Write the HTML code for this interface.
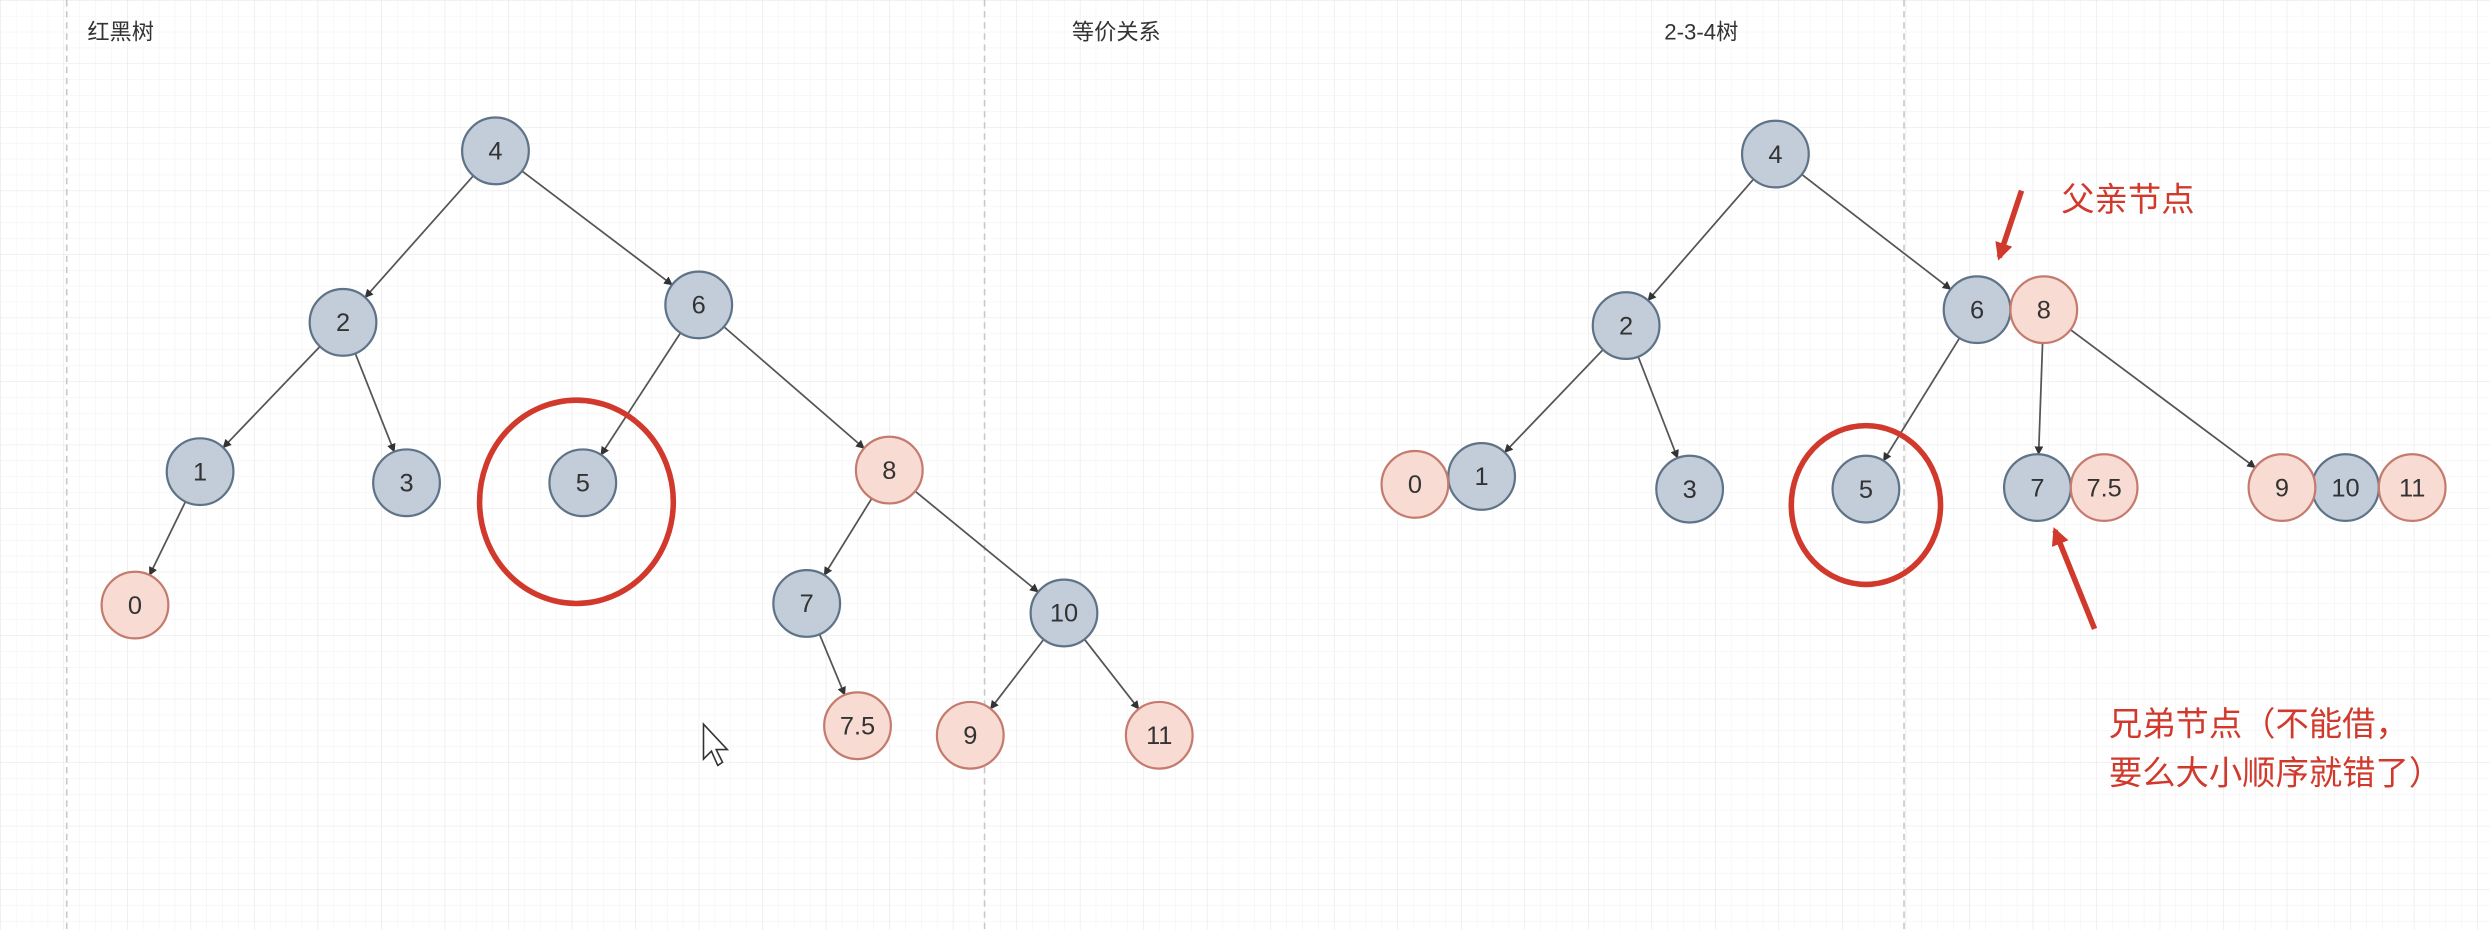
<!DOCTYPE html>
<html><head><meta charset="utf-8">
<style>
html,body{margin:0;padding:0;background:#fff;}
svg{display:block;}
text{font-family:"Liberation Sans","Noto Sans CJK SC",sans-serif;}
</style></head>
<body>
<svg id="chart" width="2490" height="930" viewBox="0 0 1568 585.6" xmlns="http://www.w3.org/2000/svg">
<defs>
<pattern id="minor" width="10" height="10" patternUnits="userSpaceOnUse"><path d="M10 0H0V10" fill="none" stroke="#f1f1f1" stroke-width="0.6"/></pattern>
<pattern id="major" width="40" height="40" patternUnits="userSpaceOnUse"><rect width="40" height="40" fill="url(#minor)"/><path d="M40 0H0V40" fill="none" stroke="#e4e4e4" stroke-width="0.7"/></pattern>
<marker id="ah" viewBox="0 0 10 10" refX="9" refY="5" markerWidth="5" markerHeight="5" orient="auto"><path d="M0 0L10 5L0 10z" fill="#333"/></marker>
<marker id="rah" viewBox="0 0 10 10" refX="8" refY="5" markerWidth="3.2" markerHeight="3.2" orient="auto"><path d="M0 0L10 5L0 10z" fill="#d0392b"/></marker>
</defs>
<rect width="1568" height="586" fill="url(#major)"/>
<g stroke="#c8c8c8" stroke-dasharray="4,3" stroke-width="1">
<line x1="42" y1="0" x2="42" y2="586"/><line x1="620" y1="0" x2="620" y2="586"/><line x1="1199" y1="0" x2="1199" y2="586"/>
</g>
<text x="55" y="25" font-size="14" fill="#333">红黑树</text>
<text x="675" y="25" font-size="14" fill="#333">等价关系</text>
<text x="1048" y="25" font-size="14" fill="#333">2-3-4树</text>
<g id="edges"></g>
<g id="nodes"></g>
<ellipse cx="363" cy="316" rx="61" ry="64" fill="none" stroke="#d0392b" stroke-width="3.5"/>
<ellipse cx="1175" cy="318" rx="47" ry="50" fill="none" stroke="#d0392b" stroke-width="3.5"/>
<line x1="1273" y1="120" x2="1259" y2="162" stroke="#d0392b" stroke-width="3.5" marker-end="url(#rah)"/>
<line x1="1319" y1="396" x2="1294" y2="334" stroke="#d0392b" stroke-width="3.5" marker-end="url(#rah)"/>
<text x="1298" y="133" font-size="21" fill="#d0392b">父亲节点</text>
<text x="1328" y="463" font-size="21" fill="#d0392b">兄弟节点（不能借，</text>
<text x="1328" y="494" font-size="21" fill="#d0392b">要么大小顺序就错了）</text>
<path d="M443 456 L443 478 L448 473 L452 482 L455 480 L451 472 L458 472 Z" fill="#fff" stroke="#333" stroke-width="1"/>
</svg>
<script>
const nodeLabels=["4","2","6","1","3","5","8","0","7","10","7.5","9","11"];
const nodeColors=["b","b","b","b","b","b","r","r","b","b","r","r","r"];
const leftX=[312,216,440,126,256,367,560,85,508,670,540,611,730];
const leftY=[95,203,192,297,304,304,296,381,380,386,457,463,463];
const leftEdges=[[0,1],[0,2],[1,3],[1,4],[2,5],[2,6],[3,7],[6,8],[6,9],[8,10],[9,11],[9,12]];
const rightX=[1118,1024,1245,933,1064,1175,1287,891,1283,1477,1325,1437,1519];
const rightY=[97,205,195,300,308,308,195,305,307,307,307,307,307];
const rightEdges=[[0,1],[0,2],[1,3],[1,4],[2,5],[6,8],[6,11],[3,7],[8,10],[9,11],[9,12]];
const R=21;
const NS="http://www.w3.org/2000/svg";
const eg=document.getElementById('edges'), ng=document.getElementById('nodes');
function drawEdges(xs,ys,edges,side){
  edges.forEach(function(e){
    const a=e[0],b=e[1];
    const dx=xs[b]-xs[a],dy=ys[b]-ys[a],d=Math.hypot(dx,dy)||1;
    const ra=(d<50)?R*0.3:R, rb=(d<50)?R*0.3:R;
    const l=document.createElementNS(NS,'line');
    l.setAttribute('x1',xs[a]+dx/d*ra);l.setAttribute('y1',ys[a]+dy/d*ra);
    l.setAttribute('x2',xs[b]-dx/d*rb);l.setAttribute('y2',ys[b]-dy/d*rb);
    l.setAttribute('stroke','#555');l.setAttribute('stroke-width','1.1');
    l.setAttribute('marker-end','url(#ah)');
    
    
    eg.appendChild(l);
  });
}
function drawNodes(xs,ys){
  nodeLabels.forEach(function(t,i){
    const g=document.createElementNS(NS,'g');
    
    
    const c=document.createElementNS(NS,'circle');
    c.setAttribute('cx',xs[i]);c.setAttribute('cy',ys[i]);c.setAttribute('r',R);
    const red=nodeColors[i]==='r';
    c.setAttribute('fill',red?'#f8dcd3':'#c3cdd9');
    c.setAttribute('stroke',red?'#c47b6e':'#5e7387');
    c.setAttribute('stroke-width','1.4');
    const tx=document.createElementNS(NS,'text');
    tx.setAttribute('x',xs[i]);tx.setAttribute('y',ys[i]+5.5);
    tx.setAttribute('text-anchor','middle');tx.setAttribute('font-size','16');tx.setAttribute('fill','#333');
    tx.textContent=t;
    g.appendChild(c);g.appendChild(tx);ng.appendChild(g);
  });
}
drawEdges(leftX,leftY,leftEdges);
drawEdges(rightX,rightY,rightEdges);
drawNodes(leftX,leftY);
drawNodes(rightX,rightY);
</script>
</body></html>
